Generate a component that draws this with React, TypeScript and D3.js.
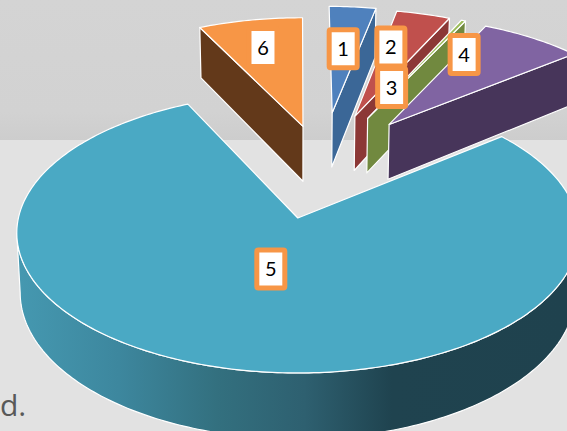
import * as React from 'react';
import * as d3 from 'd3';

// share of each slice, in percent
const categories = ['1', '2', '3', '4', '5', '6'];
const values = [3.2, 3.7, 0.3, 7.0, 78.7, 7.1];
const explosion = [0.43, 0.42, 0.42, 0.42, 0.41, 0.32];

const topColors = ['#4f81bd', '#c0504d', '#9bbb59', '#8064a2', '#4aa9c4', '#f79646'];
const sideColors = ['#3b6797', '#8c3836', '#71893f', '#47355a', 'url(#rim)', '#63391a'];
// label box centre relative to the slice tip, px
const labelOffsets = [[11, -64], [36, -69], [24, -31], [75, -70], [-27, 51], [-40, -79]];

const width = 567;
const height = 431;

// projection of the pie plane: u to the right, t away from the viewer
const origin = { x: 298, y: 218 };
const scaleU = 279.4;
const scaleT = 138.4;
const perspective = 0.107;
const thickness = 59;
const pieCentre = { u: 0.09, t: 0.4 };

function project(u: number, t: number, drop = 0): [number, number] {
    let w = 1 + perspective * t;
    return [
        origin.x + (scaleU * u / w) * (1 - 0.012 * drop),
        origin.y - scaleT * t / w + drop * thickness / w
    ];
}

function slicePoint(tip: { u: number, t: number }, angle: number, r: number, drop = 0) {
    return project(tip.u + r * Math.sin(angle), tip.t + r * Math.cos(angle), drop);
}

const line = d3.line();

export default function App() {
    let arcs = d3.pie<number>().sort(null)(values);

    let slices = arcs.map((arc, i) => {
        let mid = (arc.startAngle + arc.endAngle) / 2;
        let tip = {
            u: pieCentre.u + explosion[i] * Math.sin(mid),
            t: pieCentre.t + explosion[i] * Math.cos(mid)
        };
        let n = Math.max(4, Math.ceil((arc.endAngle - arc.startAngle) * 60));
        let angles = d3.range(n + 1).map((k) => arc.startAngle + (arc.endAngle - arc.startAngle) * k / n);
        let rimTop = angles.map((a) => slicePoint(tip, a, 1));
        let rimBottom = angles.map((a) => slicePoint(tip, a, 1, 1));
        let tipTop = project(tip.u, tip.t);
        let tipBottom = project(tip.u, tip.t, 1);

        let top = line([tipTop, ...rimTop]) + 'Z';
        let side: string;
        if (i === 4) {
            // big slice shows its outer rim, between the two widest points of the ellipse
            let from = d3.greatestIndex(rimTop, (p) => p[0]);
            let to = d3.leastIndex(rimTop, (p) => p[0]);
            side = line([...rimTop.slice(from, to + 1), ...rimBottom.slice(from, to + 1).reverse()]) + 'Z';
        } else if (i === 5) {
            // last slice shows the cut on its left
            side = line([tipTop, rimTop[0], rimBottom[0], tipBottom]) + 'Z';
        } else {
            side = line([tipTop, rimTop[n], rimBottom[n], tipBottom]) + 'Z';
        }
        return { i, top, side, tipTop };
    });

    // painter's order: big slice first, then the exploded ones left to right
    let order = [4, 5, 0, 1, 2, 3];

    return (
        <svg width={width} height={height} viewBox={`0 0 ${width} ${height}`}
            style={{ position: 'fixed', left: 0, top: 0, display: 'block' }}>
            <defs>
                <linearGradient id="band" x1="0" x2="0" y1="0" y2="1">
                    <stop offset="0" stopColor="#d4d4d4" />
                    <stop offset="0.8" stopColor="#d2d2d2" />
                    <stop offset="1" stopColor="#cdcdcd" />
                </linearGradient>
                <linearGradient id="rim" gradientUnits="userSpaceOnUse" x1="20" x2="567" y1="0" y2="0">
                    <stop offset="0" stopColor="#4598b0" />
                    <stop offset="0.18" stopColor="#3d879e" />
                    <stop offset="0.36" stopColor="#33707f" />
                    <stop offset="0.52" stopColor="#2e6070" />
                    <stop offset="0.68" stopColor="#1f434f" />
                    <stop offset="1" stopColor="#1f424e" />
                </linearGradient>
            </defs>

            <rect width={width} height={height} fill="#e2e2e2" />
            <rect width={width} height={140} fill="url(#band)" />
            <text x={0} y={416} fontFamily="'Open Sans'" fontSize={30} fill="#595959">d.</text>

            {order.map((k) => (
                <g key={categories[k]} stroke="#ffffff" strokeWidth={1.2} strokeLinejoin="round">
                    <path d={slices[k].side} fill={sideColors[k]} />
                    <path d={slices[k].top} fill={topColors[k]} />
                </g>
            ))}

            {categories.map((name, i) => {
                let cx = slices[i].tipTop[0] + labelOffsets[i][0];
                let cy = slices[i].tipTop[1] + labelOffsets[i][1];
                return (
                    <g key={name}>
                        <rect x={cx - 14} y={cy - 19} width={28} height={38} rx={1.5}
                            fill="#ffffff" stroke="#f79646" strokeWidth={5} />
                        <text x={cx} y={cy} dy="0.36em" textAnchor="middle"
                            fontFamily="Lato" fontSize={20} fill="#000000">{name}</text>
                    </g>
                );
            })}
        </svg>
    );
}
